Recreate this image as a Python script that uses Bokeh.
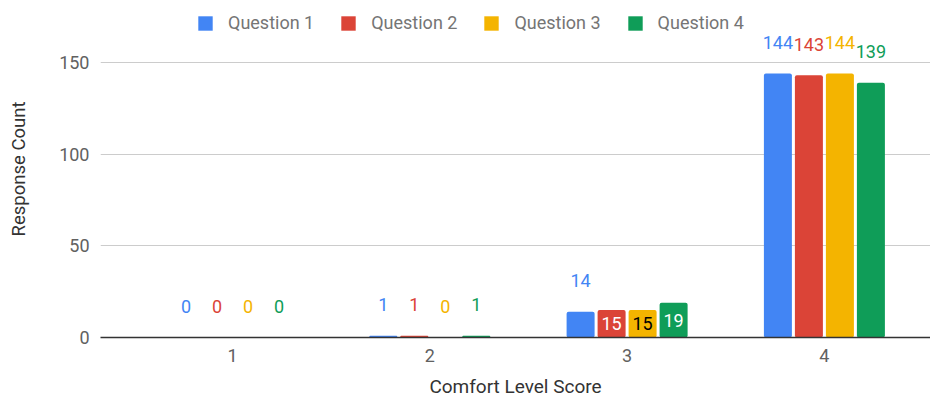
from bokeh.plotting import figure
from bokeh.models import (ColumnDataSource, Range1d, FixedTicker, Legend, LegendItem)
from bokeh.core.properties import value
from bokeh.embed import file_html
from bokeh.resources import INLINE

# ---- data ----
categories = [1, 2, 3, 4]
tick_labels = ["1", "2", "3", "4"]
series_names = ["Question 1", "Question 2", "Question 3", "Question 4"]
q1 = [0, 1, 14, 144]
q2 = [0, 1, 15, 143]
q3 = [0, 0, 15, 144]
q4 = [0, 1, 19, 139]
colors = ["#4285F4", "#DB4437", "#F4B400", "#0F9D58"]
inside_text_colors = ["#ffffff", "#ffffff", "#000000", "#ffffff"]

FONT = "Roboto"
W, H = 930, 403
ML, MR, MT, MB = 100, 0, 0, 66
frame_h = H - MT - MB
px_per_unit = 275 / 150
ymax = frame_h / px_per_unit
cat_px = 197.3

p = figure(width=W, height=H, output_backend="svg", toolbar_location=None,
           x_range=Range1d(1 - 132 / cat_px, 1 + 698 / cat_px), y_range=Range1d(0, ymax),
           min_border_left=ML, min_border_right=MR, min_border_top=MT,
           min_border_bottom=MB)
p.outline_line_color = None
p.background_fill_color = "white"

# axes
p.yaxis.ticker = FixedTicker(ticks=[0, 50, 100, 150])
p.yaxis.axis_line_color = None
p.yaxis.major_tick_line_color = None
p.yaxis.minor_tick_line_color = None
p.yaxis.major_tick_out = 0
p.yaxis.major_label_standoff = 11
p.yaxis.major_label_text_font = FONT
p.yaxis.major_label_text_font_size = "18px"
p.yaxis.major_label_text_color = "#616161"
p.yaxis.axis_label = "Response Count"
p.yaxis.axis_label_text_font = FONT
p.yaxis.axis_label_text_font_size = "18.5px"
p.yaxis.axis_label_text_font_style = "normal"
p.yaxis.axis_label_text_color = "#333333"
p.yaxis.axis_label_standoff = 26

p.xaxis.ticker = FixedTicker(ticks=categories)
p.xaxis.major_label_overrides = {c: t for c, t in zip(categories, tick_labels)}
p.xaxis.axis_line_color = "#333333"
p.xaxis.axis_line_width = 1.3
p.xaxis.major_tick_line_color = None
p.xaxis.minor_tick_line_color = None
p.xaxis.major_tick_out = 0
p.xaxis.major_label_standoff = 11
p.xaxis.major_label_text_font = FONT
p.xaxis.major_label_text_font_size = "18px"
p.xaxis.major_label_text_color = "#616161"
p.xaxis.axis_label = "Comfort Level Score"
p.xaxis.axis_label_text_font = FONT
p.xaxis.axis_label_text_font_size = "19px"
p.xaxis.axis_label_text_font_style = "normal"
p.xaxis.axis_label_text_color = "#333333"
p.xaxis.axis_label_standoff = 10

p.xgrid.grid_line_color = None
p.ygrid.grid_line_color = "#cccccc"
p.ygrid.grid_line_width = 1

# bars
all_series = [q1, q2, q3, q4]
bar_w = 28 / cat_px
step = 31 / cat_px
offsets = [-1.5, -0.5, 0.5, 1.5]
renderers = []
for s, vals, col, off in zip(series_names, all_series, colors, offsets):
    xs = [c + off * step for c in categories]
    src = ColumnDataSource(dict(x=xs, top=vals))
    r = p.vbar(x="x", top="top", width=bar_w, source=src, fill_color=col,
               line_color=None, border_radius=2)
    renderers.append(r)

# value labels
for vals, col, icol, off in zip(all_series, colors, inside_text_colors, offsets):
    out_x, out_y, out_t, in_x, in_y, in_t = [], [], [], [], [], []
    for c, v in zip(categories, vals):
        x = c + off * step
        if 15 <= v < 100:
            in_x.append(x); in_y.append(v / 2); in_t.append(str(v))
        else:
            out_x.append(x); out_y.append(v + 31 / px_per_unit); out_t.append(str(v))
    p.text(x=out_x, y=out_y, text=out_t, text_color=col, text_align="center",
           text_baseline="middle", text_font=value(FONT), text_font_size="18px")
    if in_x:
        p.text(x=in_x, y=in_y, text=in_t, text_color=icol, text_align="center",
               text_baseline="middle", text_font=value(FONT), text_font_size="18px")

legend = Legend(items=[LegendItem(label=n, renderers=[r]) for n, r in zip(series_names, renderers)],
                orientation="horizontal", location=(96, frame_h - 33),
                glyph_width=18, glyph_height=18, label_standoff=14, spacing=25,
                padding=0, margin=0, background_fill_alpha=0, border_line_color=None,
                label_text_font=FONT, label_text_font_size="18px",
                label_text_color="#757575")
p.add_layout(legend)

open("out.html", "w").write(file_html(p, INLINE))
